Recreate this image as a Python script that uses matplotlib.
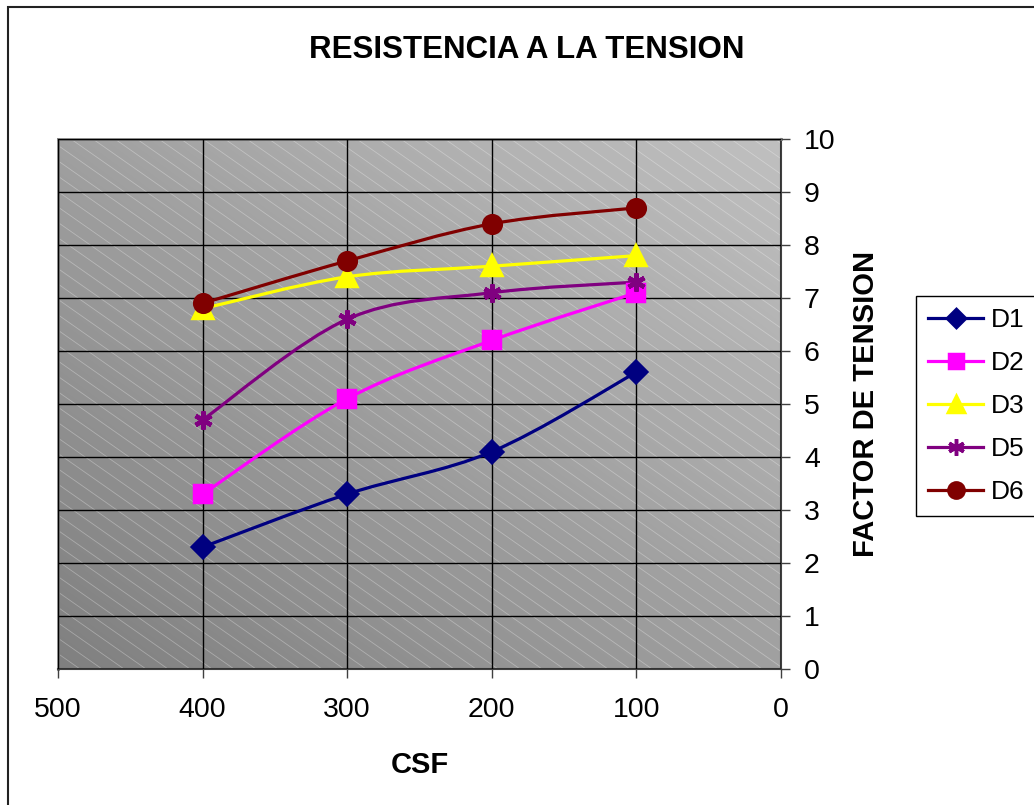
import matplotlib
matplotlib.use("Agg")
import matplotlib.pyplot as plt
import numpy as np
from matplotlib.collections import LineCollection
from matplotlib.lines import Line2D
from matplotlib.patches import PathPatch, Rectangle
from matplotlib.path import Path

plt.rcParams["font.family"] = ["Liberation Sans", "DejaVu Sans"]

# CSF values and tension factor per series
csf = [400, 300, 200, 100]
d1 = [2.3, 3.3, 4.1, 5.6]
d2 = [3.3, 5.1, 6.2, 7.1]
d3 = [6.8, 7.4, 7.6, 7.8]
d5 = [4.7, 6.6, 7.1, 7.3]
d6 = [6.9, 7.7, 8.4, 8.7]
series_names = ["D1", "D2", "D3", "D5", "D6"]
x_ticks = [500, 400, 300, 200, 100, 0]
y_ticks = list(range(0, 11))

STYLES = {
    "D1": dict(color="#000080", marker="D", ms=10),
    "D2": dict(color="#FF00FF", marker="s", ms=11),
    "D3": dict(color="#FFFF00", marker="^", ms=13),
    "D5": dict(color="#800080", marker=(6, 2, 0), ms=13),
    "D6": dict(color="#800000", marker="o", ms=12),
}


def smooth_path(xs, ys):
    """Bezier path through the points, same tension as a spreadsheet smoothed line."""
    pts = np.column_stack([xs, ys]).astype(float)
    ext = np.vstack([pts[0], pts, pts[-1]])
    verts = [pts[0]]
    codes = [Path.MOVETO]
    for i in range(len(pts) - 1):
        p0, p1, p2, p3 = ext[i], ext[i + 1], ext[i + 2], ext[i + 3]
        verts += [p1 + (p2 - p0) / 6, p2 - (p3 - p1) / 6, p2]
        codes += [Path.CURVE4] * 3
    return Path(verts, codes)


W, H = 1034, 805
fig = plt.figure(figsize=(W / 100, H / 100), dpi=100)
ax = fig.add_axes([58 / W, 1 - 669 / H, 723 / W, 530 / H])

# gradient background, darker towards the lower left
u, v = np.meshgrid(np.linspace(0, 1, 200), np.linspace(0, 1, 200))
g = (128 + 32 * u + 32 * v) / 255
ax.imshow(np.dstack([g, g, g]), extent=[0, 1, 0, 1], transform=ax.transAxes,
          origin="lower", aspect="auto", zorder=0, interpolation="bilinear")

# faint diagonal hatching
aw, ah = 723.0, 530.0
slope = 0.7
segs = []
for x0 in np.arange(-ah / slope, aw, 22):
    segs.append([(x0 / aw, 1.0), ((x0 + ah / slope) / aw, 0.0)])
ax.add_collection(LineCollection(segs, colors="white", linewidths=0.6, alpha=0.3,
                                 transform=ax.transAxes, zorder=0.5, clip_on=True))

ax.set_xlim(500, 0)
ax.set_ylim(0, 10)
ax.set_xticks(x_ticks)
ax.set_yticks(y_ticks)
ax.grid(True, color="black", linewidth=1.0, zorder=1)
ax.set_axisbelow(False)

for name, ys in zip(series_names, [d1, d2, d3, d5, d6]):
    st = STYLES[name]
    ax.add_patch(PathPatch(smooth_path(csf, ys), fill=False, edgecolor=st["color"],
                           linewidth=2.3, zorder=3, capstyle="round", joinstyle="round"))
    ax.plot(csf, ys, linestyle="none", marker=st["marker"], ms=st["ms"],
            color=st["color"], markeredgecolor=st["color"], markeredgewidth=3.2, zorder=4)

for side in ["left", "top"]:
    ax.spines[side].set_color("#808080")
    ax.spines[side].set_linewidth(2.0)
ax.spines["bottom"].set_color("#404040")
ax.spines["right"].set_color("#404040")
ax.spines["bottom"].set_linewidth(1.5)
ax.spines["right"].set_linewidth(1.5)

ax.yaxis.tick_right()
ax.yaxis.set_label_position("right")
ax.tick_params(axis="both", direction="out", length=6.5, width=1.0, color="#404040",
               labelsize=20.5)
ax.tick_params(axis="y", pad=10)
ax.tick_params(axis="x", pad=14)

ax.set_xlabel("CSF", fontsize=21, fontweight="bold", labelpad=20)
ax.set_ylabel("FACTOR DE TENSION", fontsize=21, fontweight="bold", labelpad=12)

fig.text(527 / W, 1 - 50 / H, "RESISTENCIA A LA TENSION", fontsize=22.5,
         fontweight="bold", ha="center", va="center")

handles = [Line2D([0], [0], color=STYLES[n]["color"], linewidth=2.3,
                  marker=STYLES[n]["marker"], ms=STYLES[n]["ms"] - 1,
                  markeredgewidth=2.5) for n in series_names]
leg = fig.legend(handles, series_names, loc="upper left",
                 bbox_to_anchor=(916 / W, 1 - 296 / H), fontsize=19,
                 frameon=True, fancybox=False, edgecolor="black", framealpha=1,
                 handlelength=2.1, handletextpad=0.3, labelspacing=0.72,
                 borderpad=0.45, borderaxespad=0)
leg.get_frame().set_linewidth(1.0)

# outer chart frame
fig.patches.append(Rectangle((8 / W, -0.05), 1.2, 1 - 7 / H + 0.05,
                             transform=fig.transFigure, fill=False,
                             edgecolor="#222222", linewidth=1.5))

fig.savefig("out.png", dpi=100)
